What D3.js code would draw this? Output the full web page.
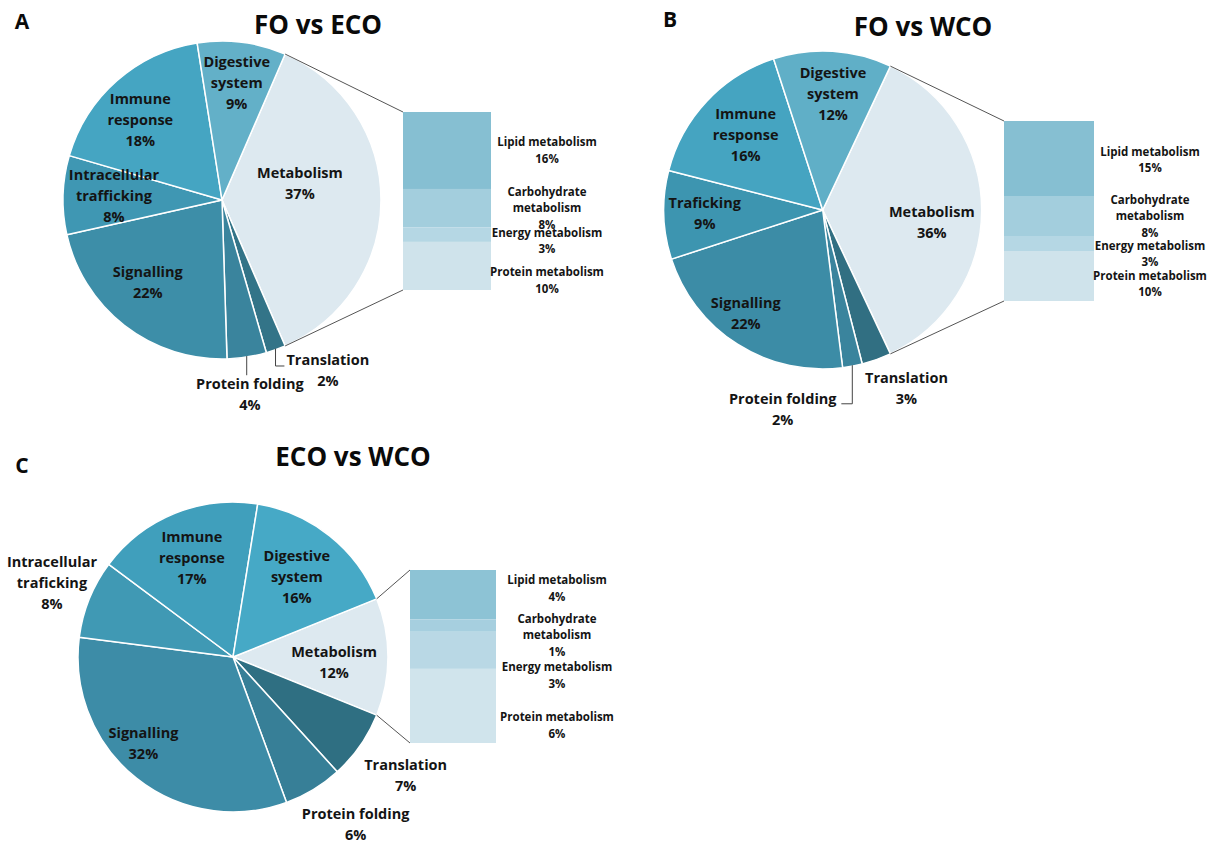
<!DOCTYPE html>
<html><head><meta charset="utf-8">
<script src="https://cdn.jsdelivr.net/npm/d3@7"></script>
<style>body{margin:0;background:#fff;} svg{display:block;font-family:'Open Sans',sans-serif;}</style>
</head><body>
<svg id="chart" width="1226" height="843"></svg>
<script>
// ---------------- DATA ----------------
const titles = ["FO vs ECO", "FO vs WCO", "ECO vs WCO"];
const panelLetters = ["A", "B", "C"];

const categoriesA = ["Metabolism","Translation","Protein folding","Signalling","Intracellular trafficking","Immune response","Digestive system"];
const labelsA = ["Metabolism","Translation","Protein folding","Signalling","Intracellular\ntrafficking","Immune\nresponse","Digestive\nsystem"];
const valuesA = [37, 2, 4, 22, 8, 18, 9];

const categoriesB = ["Metabolism","Translation","Protein folding","Signalling","Traficking","Immune response","Digestive system"];
const labelsB = ["Metabolism","Translation","Protein folding","Signalling","Traficking","Immune\nresponse","Digestive\nsystem"];
const valuesB = [36, 3, 2, 22, 9, 16, 12];

const categoriesC = ["Metabolism","Translation","Protein folding","Signalling","Intracellular traficking","Immune response","Digestive system"];
const labelsC = ["Metabolism","Translation","Protein folding","Signalling","Intracellular\ntraficking","Immune\nresponse","Digestive\nsystem"];
const valuesC = [12, 7, 6, 32, 8, 17, 16];

const subCategories = ["Lipid metabolism","Carbohydrate metabolism","Energy metabolism","Protein metabolism"];
const subLabels = ["Lipid metabolism","Carbohydrate\nmetabolism","Energy metabolism","Protein metabolism"];
const subValuesA = [16, 8, 3, 10];
const subValuesB = [15, 8, 3, 10];
const subValuesC = [4, 1, 3, 6];

// ---------------- LAYOUT / STYLE ----------------
const panels = [
  { letter: panelLetters[0], title: titles[0], cats: categoriesA, labels: labelsA, vals: valuesA, sub: subValuesA,
    cx: 222, cy: 200, r: 159, titlePos: [318, 25], letterPos: [22, 22],
    bar: { x0: 403, x1: 491, y0: 112, y1: 290 }, barLabelX: 547, barNudge: [0, 0, 6.5, 14.5],
    colors: ["#dde9f0","#337488","#3a849d","#3d8ea8","#3f97b3","#45a5c2","#63b0c8"],
    subColors: ["#86bfd2","#a3cedd","#b5d7e4","#cfe3eb"],
    lab: [ {k:0.49,dx:0,dy:-16.5}, {k:1.26,dx:38,dy:-18,leader:"elbowRight"}, {k:1.24,dx:-3,dy:0,leader:"down"},
           {k:0.69,dx:-7,dy:-4}, {k:0.68,dx:0,dy:-1}, {k:0.72,dx:-6,dy:6}, {k:0.74,dx:0,dy:0} ] },
  { letter: panelLetters[1], title: titles[1], cats: categoriesB, labels: labelsB, vals: valuesB, sub: subValuesB,
    cx: 822.7, cy: 210, r: 159, titlePos: [923, 27], letterPos: [670, 20],
    bar: { x0: 1004, x1: 1094, y0: 121, y1: 301 }, barLabelX: 1150, barNudge: [1.5, 0, 10.5, 8],
    colors: ["#dde9f0","#316f82","#3a849d","#3c8ca6","#3d95b0","#45a4c1","#60afc7"],
    subColors: ["#86bfd2","#a3cedd","#b5d7e4","#cfe3eb"],
    lab: [ {k:0.686,dx:0,dy:12}, {k:1.24,dx:17,dy:-7}, {k:1.26,dx:-77.5,dy:2.5,leader:"elbowLeft"},
           {k:0.786,dx:-10,dy:-2}, {k:0.742,dx:0,dy:0}, {k:0.673,dx:1,dy:-2}, {k:0.73,dx:3,dy:0} ] },
  { letter: panelLetters[2], title: titles[2], cats: categoriesC, labels: labelsC, vals: valuesC, sub: subValuesC,
    cx: 233, cy: 657, r: 155, titlePos: [353, 457], letterPos: [22, 466],
    bar: { x0: 410, x1: 496, y0: 570, y1: 743 }, barLabelX: 557, barNudge: [-6, 9.5, 25, 19.5],
    colors: ["#dde9f0","#2f6f82","#377f97","#3d8ca7","#4099b4","#409fbc","#46a9c6"],
    subColors: ["#8dc3d5","#a6cfdf","#b9d8e5","#d0e4ec"],
    lab: [ {k:0.652,dx:0,dy:5.5}, {k:1.35,dx:1,dy:-1}, {k:1.265,dx:21,dy:0},
           {k:0.72,dx:-20,dy:-1}, {k:1.26,dx:0,dy:-1}, {k:0.69,dx:-1,dy:0}, {k:0.66,dx:0,dy:0} ] }
];

const textColor = "#141414";
const pieFont = 14.5, pieLH = 21;
const barFont = 11.5, barLH = 16.5;

const svg = d3.select("#chart");

panels.forEach(p => {
  const g = svg.append("g");
  const total = d3.sum(p.vals);
  const offset = Math.PI / 2 - (p.vals[0] / total) * Math.PI;  // centre the exploded slice at 3 o'clock
  const pie = d3.pie().sort(null).value(d => d).startAngle(offset).endAngle(offset + 2 * Math.PI);
  const arcs = pie(p.vals);
  const arc = d3.arc().innerRadius(0).outerRadius(p.r);
  const color = d3.scaleOrdinal().domain(p.cats).range(p.colors);

  // title and letter
  g.append("text").attr("x", p.titlePos[0]).attr("y", p.titlePos[1]).attr("dy", "0.35em")
    .attr("text-anchor", "middle").attr("font-size", 26).attr("font-weight", "bold").attr("fill", "#0a0a0a").text(p.title);
  g.append("text").attr("x", p.letterPos[0]).attr("y", p.letterPos[1]).attr("dy", "0.35em")
    .attr("text-anchor", "middle").attr("font-size", 21).attr("font-weight", "bold").attr("fill", "#0a0a0a").text(p.letter);

  const pg = g.append("g").attr("transform", `translate(${p.cx},${p.cy})`);
  pg.selectAll("path.slice").data(arcs).join("path").attr("class", "slice")
    .attr("d", arc).attr("fill", (d, i) => color(p.cats[i]))
    .attr("stroke", "#fff").attr("stroke-width", 1.5).attr("stroke-linejoin", "round");

  const pt = (a, rr) => [p.cx + rr * Math.sin(a), p.cy - rr * Math.cos(a)];

  // connector lines from metabolism slice to stacked bar
  const m = arcs[0];
  const s0 = pt(m.startAngle, p.r), s1 = pt(m.endAngle, p.r);
  g.append("line").attr("x1", s0[0]).attr("y1", s0[1]).attr("x2", p.bar.x0).attr("y2", p.bar.y0)
    .attr("stroke", "#555").attr("stroke-width", 1);
  g.append("line").attr("x1", s1[0]).attr("y1", s1[1]).attr("x2", p.bar.x0).attr("y2", p.bar.y1)
    .attr("stroke", "#555").attr("stroke-width", 1);

  // stacked secondary bar
  const subTotal = d3.sum(p.sub);
  const y = d3.scaleLinear().domain([0, subTotal]).range([p.bar.y0, p.bar.y1]);
  const subColor = d3.scaleOrdinal().domain(subCategories).range(p.subColors);
  let cum = 0;
  const stack = p.sub.map((v, i) => { const o = { v, i, a: cum, b: cum + v }; cum += v; return o; });
  g.selectAll("rect.seg").data(stack).join("rect").attr("class", "seg")
    .attr("x", p.bar.x0).attr("width", p.bar.x1 - p.bar.x0)
    .attr("y", d => y(d.a)).attr("height", d => y(d.b) - y(d.a))
    .attr("fill", d => subColor(subCategories[d.i]));

  stack.forEach(d => {
    const lines = subLabels[d.i].split("\n").concat([d.v + "%"]);
    const cy = (y(d.a) + y(d.b)) / 2 + p.barNudge[d.i];
    const t = g.append("text").attr("text-anchor", "middle").attr("font-size", barFont)
      .attr("font-weight", "bold").attr("fill", textColor);
    lines.forEach((ln, j) => {
      t.append("tspan").attr("x", p.barLabelX).attr("y", cy + (j - (lines.length - 1) / 2) * barLH)
        .attr("dy", "0.35em").text(ln);
    });
  });

  // pie labels
  arcs.forEach((d, i) => {
    const L = p.lab[i];
    const mid = (d.startAngle + d.endAngle) / 2;
    const c = pt(mid, L.k * p.r);
    const lx = c[0] + L.dx, ly = c[1] + L.dy;
    const lines = p.labels[i].split("\n").concat([p.vals[i] + "%"]);
    const firstY = ly - (lines.length - 1) / 2 * pieLH;
    const t = g.append("text").attr("text-anchor", "middle").attr("font-size", pieFont)
      .attr("font-weight", "bold").attr("fill", textColor);
    lines.forEach((ln, j) => {
      t.append("tspan").attr("x", lx).attr("y", firstY + j * pieLH).attr("dy", "0.35em").text(ln);
    });
    if (L.leader) {
      const bb = t.node().getBBox();
      const a0 = pt(mid, p.r - 1);
      let pts;
      if (L.leader === "down") {
        pts = [a0, [a0[0], firstY - 9]];
      } else if (L.leader === "elbowRight") {
        pts = [a0, [a0[0], firstY + 6], [bb.x - 2, firstY + 6]];
      } else {
        pts = [a0, [a0[0], firstY + 5], [bb.x + bb.width + 4, firstY + 5]];
      }
      g.append("path").attr("d", d3.line()(pts)).attr("fill", "none")
        .attr("stroke", "#444").attr("stroke-width", 1);
    }
  });
});
</script>
</body></html>
